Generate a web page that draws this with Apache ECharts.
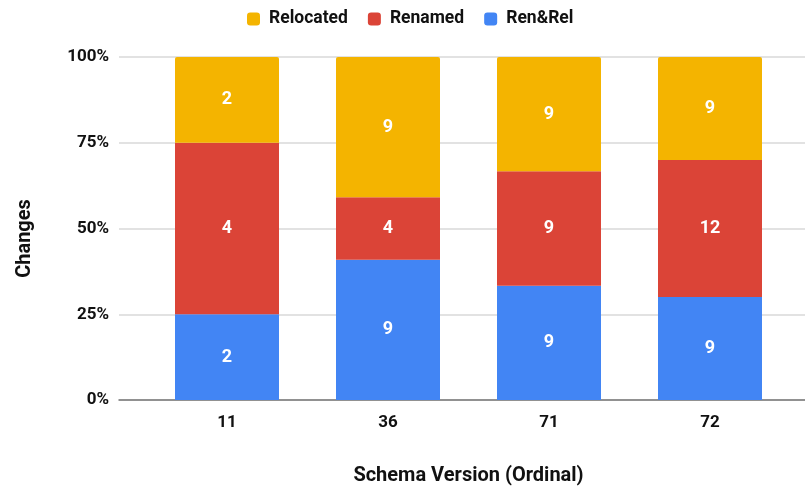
<!DOCTYPE html>
<html>
<head>
<meta charset="utf-8">
<script src="https://cdn.jsdelivr.net/npm/echarts@6/dist/echarts.min.js"></script>
<style>
  html, body { margin: 0; padding: 0; background: #fff; }
  #chart { width: 805px; height: 487px; }
</style>
</head>
<body>
<div id="chart"></div>
<script>
// Schema versions on the x axis
const versions = ['11', '36', '71', '72'];
// Change counts per version
const renRel = [2, 9, 9, 9];
const renamed = [4, 4, 9, 12];
const relocated = [2, 9, 9, 9];
// Percent tick labels on the y axis
const yTicks = [0, 25, 50, 75, 100];

const totals = versions.map((_, i) => renRel[i] + renamed[i] + relocated[i]);
const toPct = arr => arr.map((v, i) => v / totals[i] * 100);

const FONT = 'Roboto';
const chart = echarts.init(document.getElementById('chart'), null, { renderer: 'canvas' });

function barSeries(name, counts, color, radius) {
  return {
    name: name,
    type: 'bar',
    stack: 'total',
    xAxisIndex: 1,
    yAxisIndex: 1,
    barWidth: 104,
    data: toPct(counts),
    itemStyle: { color: color, borderRadius: radius },
    label: {
      show: true,
      position: 'inside',
      color: '#fff',
      fontFamily: FONT,
      fontWeight: 'bold',
      fontSize: 18,
      formatter: p => String(counts[p.dataIndex])
    },
    emphasis: { disabled: true }
  };
}

chart.setOption({
  animation: false,
  textStyle: { fontFamily: FONT },
  legend: {
    data: ['Relocated', 'Renamed', 'Ren&Rel'],
    left: 242,
    top: 5,
    itemWidth: 13,
    itemHeight: 13,
    itemGap: 20,
    icon: 'roundRect',
    textStyle: {
      fontFamily: FONT, fontWeight: 'bold', fontSize: 17.5, color: '#111',
      padding: [0, 0, 0, 4]
    }
  },
  grid: [
    { left: 119, right: 0, top: 57, bottom: 87, outerBoundsMode: 'none', containLabel: false },
    { left: 146.5, right: 14.5, top: 57, bottom: 87, outerBoundsMode: 'none', containLabel: false }
  ],
  xAxis: [
    {
      gridIndex: 0,
      type: 'value',
      min: 0,
      max: 1,
      axisLine: { show: true, onZero: false, lineStyle: { color: '#777', width: 1.5 } },
      axisTick: { show: false },
      axisLabel: { show: false },
      splitLine: { show: false }
    },
    {
      gridIndex: 1,
      type: 'category',
      data: versions,
      axisLine: { show: false },
      axisTick: { show: false },
      axisLabel: {
        margin: 14,
        color: '#111',
        fontFamily: FONT,
        fontWeight: 'bold',
        fontSize: 17
      },
      name: 'Schema Version (Ordinal)',
      nameLocation: 'middle',
      nameGap: 66,
      nameTextStyle: { color: '#111', fontFamily: FONT, fontWeight: 'bold', fontSize: 20 }
    }
  ],
  yAxis: [
    {
      gridIndex: 0,
      type: 'value',
      min: yTicks[0],
      max: yTicks[yTicks.length - 1],
      interval: yTicks[1] - yTicks[0],
      axisLine: { show: false },
      axisTick: { show: false },
      splitLine: { lineStyle: { color: '#d9d9d9', width: 1.5 } },
      axisLabel: {
        margin: 10,
        color: '#111',
        fontFamily: FONT,
        fontWeight: 'bold',
        fontSize: 17,
        formatter: '{value}%'
      },
      name: 'Changes',
      nameLocation: 'middle',
      nameRotate: 90,
      nameGap: 84,
      nameTextStyle: { color: '#111', fontFamily: FONT, fontWeight: 'bold', fontSize: 20, padding: [0, 0, 0, -20] }
    },
    {
      gridIndex: 1,
      type: 'value',
      min: 0,
      max: 100,
      show: false,
      splitLine: { show: false }
    }
  ],
  series: [
    barSeries('Ren&Rel', renRel, '#4285F4', 0),
    barSeries('Renamed', renamed, '#DB4437', 0),
    barSeries('Relocated', relocated, '#F4B400', [2, 2, 0, 0])
  ]
});
</script>
</body>
</html>
